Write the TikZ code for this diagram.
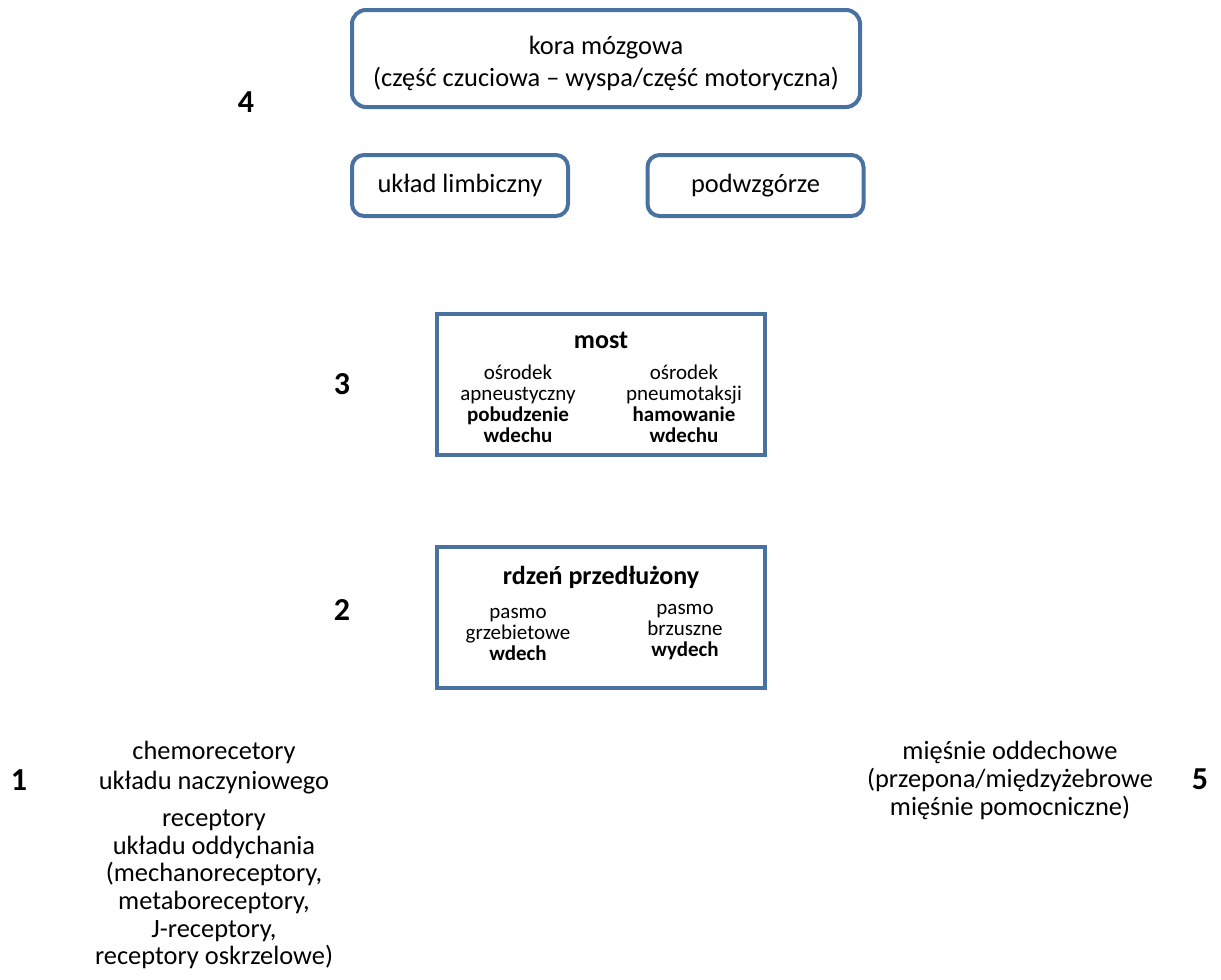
\documentclass[tikz,border=0pt]{standalone}
\usepackage{fontspec}
\setmainfont{Carlito}
\usetikzlibrary{positioning}

\definecolor{boxblue}{RGB}{74,114,160}

\begin{document}
\begin{tikzpicture}[x=0.5pt, y=-0.5pt,
    roundbox/.style={draw=boxblue, line width=2pt, rounded corners=7pt, fill=white, align=center, inner sep=0pt,
      font=\fontsize{13.2}{16}\selectfont},
    flatbox/.style={draw=boxblue, line width=1.6pt, fill=white, inner sep=0pt,
      minimum width=164pt, minimum height=70.5pt},
    small/.style={align=center, inner sep=0pt, font=\fontsize{10.5}{10.5}\selectfont},
    big/.style={align=center, inner sep=0pt, font=\fontsize{13.2}{13.8}\selectfont},
    num/.style={inner sep=0pt, font=\fontsize{16}{16}\selectfont\bfseries}]
      \useasboundingbox (0,0) rectangle (1221,980);

      % Level 4: cortex, limbic system, hypothalamus
      \node[roundbox, minimum width=254pt, minimum height=48.5pt] (kora) at (606,58.5) {};
      \node[big, font=\fontsize{13.2}{16}\selectfont] (koraT) at (606,63)
        {kora mózgowa\\(część czuciowa – wyspa/część motoryczna)};
      \node[roundbox, rounded corners=6pt, minimum width=108pt, minimum height=30.5pt] (limb) at (460,185.5) {układ limbiczny};
      \node[roundbox, rounded corners=6pt, minimum width=108pt, minimum height=30.5pt] (podw) at (755.5,185.5) {podwzgórze};
      \node[num] (n4) at (246,102) {4};

      % Level 3: pons
      \node[flatbox] (most) at (601,384.5) {};
      \node[big, font=\fontsize{13}{13}\selectfont\bfseries] (mostT) at (601,340) {most};
      \node[small] (apn) at (518,403.5) {ośrodek\\apneustyczny\\\textbf{pobudzenie}\\\textbf{wdechu}};
      \node[small] (pneu) at (684,403.5) {ośrodek\\pneumotaksji\\\textbf{hamowanie}\\\textbf{wdechu}};
      \node[num] (n3) at (342,384) {3};

      % Level 2: medulla
      \node[flatbox] (rdzen) at (601,617.5) {};
      \node[big, font=\fontsize{13}{13}\selectfont\bfseries] (rdzenT) at (601,577) {rdzeń przedłużony};
      \node[small] (grzb) at (518,634.5) {pasmo\\grzebietowe\\\textbf{wdech}};
      \node[small] (brzu) at (685,632) {pasmo\\brzuszne\\\textbf{wydech}};
      \node[num] (n2) at (342,610) {2};

      % Level 1: receptors
      \node[big, font=\fontsize{13.2}{15}\selectfont] (chemo) at (214,767.5) {chemorecetory\\układu naczyniowego};
      \node[big] (recep) at (214,889.5) {receptory\\układu oddychania\\(mechanoreceptory,\\metaboreceptory,\\J-receptory,\\receptory oskrzelowe)};
      \node[num] (n1) at (19,780) {1};

      % Level 5: muscles
      \node[big] (miesnie) at (1010,780.5) {mięśnie oddechowe\\(przepona/międzyżebrowe\\mięśnie pomocniczne)};
      \node[num] (n5) at (1200,779) {5};
    \end{tikzpicture}
\end{document}
